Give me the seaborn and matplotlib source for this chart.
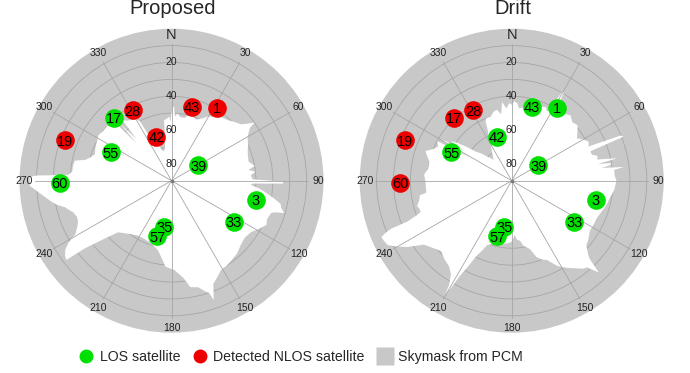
import numpy as np
import matplotlib
matplotlib.use("Agg")
import matplotlib.pyplot as plt
from matplotlib.lines import Line2D
import seaborn as sns

# ---- satellites: PRN, azimuth (deg, clockwise from N), elevation (deg) ----
sat_prn = [1, 3, 17, 19, 28, 33, 35, 39, 42, 43, 55, 57, 60]
sat_az = [32.1, 102.6, 317.8, 290.8, 331.3, 123.3, 189.1, 60.3, 341.0, 15.5, 295.0, 194.4, 269.0]
sat_el = [39.1, 38.9, 39.5, 22.6, 42.3, 45.7, 62.3, 71.8, 62.5, 44.6, 50.4, 56.0, 23.9]

# PRNs flagged as NLOS by each method
nlos_proposed = [1, 19, 28, 42, 43]
nlos_drift = [17, 19, 28, 60]

# ---- skymask boundary (elevation of obstruction vs azimuth) ----
mask_az_proposed = [0, 1, 2, 3, 5, 8, 12, 15, 18, 22, 26, 30, 35, 39, 43, 47, 51, 53.5, 55, 56,
                    60, 65, 70, 76, 80, 82, 84, 86, 89, 90.5, 91.5, 92, 93, 95, 97, 100, 102, 104,
                    106, 107, 108, 112, 115, 119, 123, 128, 133, 138, 143, 147, 151, 155, 158,
                    160.5, 161.5, 163, 166, 170, 173, 178, 184, 187, 191, 198, 205, 211, 218, 226,
                    229, 231, 232, 233, 235, 237, 239, 241, 244, 246, 249, 252, 254, 256, 258, 260,
                    263, 265, 268, 270, 271.5, 272.2, 272.6, 273.3, 275.3, 278, 281.7, 283.6, 286,
                    289, 293, 298, 302, 306, 311, 314, 316, 317, 318, 320, 321, 324, 327, 330, 332,
                    333, 335, 340, 344, 348, 351, 353, 356, 358, 359]
mask_el_proposed = [50, 47, 46, 52, 50, 52, 52, 49, 50, 51, 49, 46, 44, 42, 41, 39, 37, 33, 30, 34,
                    38, 40, 42, 43, 40, 44, 40, 43, 42, 24, 24, 42, 43, 38, 34, 28, 24, 23,
                    20.6, 26, 28, 29, 28, 31, 34, 35, 34, 32, 31, 30, 29.5, 26.5, 24,
                    15, 20, 21.5, 25, 26, 32, 37, 39, 43.5, 48, 51, 52, 52, 50, 46,
                    38, 30, 25, 12, 13, 15, 19, 25, 28, 29.4, 30, 29, 27, 25, 21, 18,
                    14, 11, 6, 6, 6, 10, 19, 29, 31, 31, 31.5, 37.5, 40,
                    42, 41, 40, 39, 40, 40, 43, 44, 60, 45, 58, 44, 46, 47, 48, 50,
                    58, 62, 68, 72, 71, 66, 54, 53, 52, 55]

mask_az_drift = [0, 2, 4, 6, 9, 12, 16, 20, 25, 27, 28.5, 29.5, 30.5, 31.5, 33, 36, 42, 46, 50, 54,
                 57, 60, 63, 66, 67.5, 68.5, 69.5, 72, 74, 76, 78, 79, 80, 81, 82, 83, 84, 87, 90,
                 95, 100, 104, 107, 110, 114, 118, 123, 127, 131, 134, 135, 136.5, 137.5, 139, 141,
                 143, 146, 149, 152, 156, 159, 162, 165, 168, 170, 172, 175, 177, 178, 180, 183,
                 187, 192, 197, 201, 203, 205, 207, 208.5, 209.5, 210.3, 211, 213, 216, 221, 223,
                 225, 229, 234, 237.5, 240, 242.5, 245, 246.6, 247.5, 248.3, 248.6, 250, 251, 253,
                 255, 258, 261, 262, 265, 269, 274, 278, 283, 286, 289, 292, 295, 298, 299, 300,
                 301, 302, 303, 305, 307, 309, 312, 314, 316, 319, 322, 326, 330, 333, 335, 336,
                 338, 342, 345, 348, 351, 353, 355, 356, 358]
mask_el_drift = [45, 43, 44, 47, 46, 45, 44, 43, 42, 44, 40, 30, 29, 36, 44, 40, 38, 40, 39, 42,
                 44, 41, 39, 40, 20, 19, 40, 40, 37, 38, 26, 38, 30, 31, 36, 23, 29, 29, 28,
                 29, 31, 32, 33, 34, 35, 35, 35, 33, 31.5, 27, 25, 15, 18, 22, 23,
                 25, 27.6, 30, 33, 38.6, 40, 42.5, 48, 50, 51, 54, 55, 58, 56, 54, 53,
                 52.5, 52, 51, 49, 45, 41, 33, 26, 17, 12, 18, 24, 27, 29, 30,
                 31, 29, 25.6, 17, 12, 7.3, 6.3, 5.9, 9, 13.2, 23.7, 30, 33, 33,
                 32, 34, 35, 39, 39, 39, 38, 40, 40, 38, 36, 40, 42, 40, 62, 41,
                 45, 57, 47, 51, 57, 62.6, 66, 69, 71, 73.7, 72, 69, 65, 60, 56, 52,
                 50, 50, 48, 47, 50, 43, 46, 47, 44]

# ---- styling ----
MASK_GREY = "#c8c8c8"
GRID_GREY = "#a6a6a6"
LOS_GREEN = "#00e000"
NLOS_RED = "#ee0000"

sns.set_theme(style="white")
plt.rcParams["font.family"] = ["Liberation Sans", "DejaVu Sans"]

fig = plt.figure(figsize=(6.9, 3.73), dpi=100)

W, H = 690.0, 373.0
RADIUS_PX = 152.0


def polar_axes(cx, cy):
    rect = [(cx - RADIUS_PX) / W, (H - cy - RADIUS_PX) / H, 2 * RADIUS_PX / W, 2 * RADIUS_PX / H]
    return fig.add_axes(rect, projection="polar")


def draw_skyplot(ax, title, cx, mask_az, mask_el, nlos):
    ax.set_theta_zero_location("N")
    ax.set_theta_direction(-1)
    ax.set_rlim(0, 90)
    ax.set_facecolor(MASK_GREY)
    ax.spines["polar"].set_visible(False)

    # open sky region (white) inside the skymask boundary
    th = np.radians(np.asarray(mask_az, dtype=float))
    rr = 90.0 - np.asarray(mask_el, dtype=float)
    ax.fill(th, rr, color="white", lw=0, zorder=1)

    # elevation rings every 10 degrees
    ax.set_yticks(np.arange(10, 90, 10))
    ax.set_yticklabels([])
    ax.set_xticks([])
    ax.yaxis.grid(True, color=GRID_GREY, lw=0.6)
    ax.xaxis.grid(False)

    # azimuth spokes every 30 degrees
    for a in range(0, 360, 30):
        ax.plot([np.radians(a)] * 2, [0, 81], color=GRID_GREY, lw=0.6, zorder=2)

    # azimuth labels
    for a in range(0, 360, 30):
        if a == 0:
            ax.text(0, 86.5, "N", ha="center", va="center", fontsize=10.5, zorder=3)
        else:
            ax.text(np.radians(a), 87, str(a), ha="center", va="center", fontsize=7.5,
                    color="#222222", zorder=3)

    # elevation labels along the north line
    for e in (20, 40, 60, 80):
        ax.text(0, 90 - e, str(e), ha="center", va="center", fontsize=7.5,
                color="#222222", zorder=3)

    ax.plot([0], [0], marker="o", ms=1.5, color="#777777", zorder=3)

    # satellites
    for i, (prn, az, el) in enumerate(zip(sat_prn, sat_az, sat_el)):
        col = NLOS_RED if prn in nlos else LOS_GREEN
        sns.scatterplot(x=[np.radians(az)], y=[90 - el], ax=ax, color=col, s=180,
                        linewidth=0, legend=False, zorder=10 + 2 * i)
        ax.text(np.radians(az), 90 - el, str(prn), ha="center", va="center_baseline",
                fontsize=10.5, color="black", zorder=11 + 2 * i)

    ax.set_xlabel("")
    ax.set_ylabel("")
    fig.text(cx / W, 1 - 14 / H, title, ha="center", va="baseline", fontsize=14.5)


ax_l = polar_axes(171.5, 180.7)
draw_skyplot(ax_l, "Proposed", 172.5, mask_az_proposed, mask_el_proposed, nlos_proposed)

ax_r = polar_axes(511.7, 180.7)
draw_skyplot(ax_r, "Drift", 512.5, mask_az_drift, mask_el_drift, nlos_drift)

handles = [
    Line2D([], [], ls="none", marker="o", ms=10, mfc=LOS_GREEN, mec="none"),
    Line2D([], [], ls="none", marker="o", ms=10, mfc=NLOS_RED, mec="none"),
    Line2D([], [], ls="none", marker="s", ms=13, mfc=MASK_GREY, mec="none"),
]
labels = ["LOS satellite", "Detected NLOS satellite", "Skymask from PCM"]
fig.legend(handles, labels, loc="center", bbox_to_anchor=(301 / W, 1 - 357 / H), ncol=3,
           frameon=False, fontsize=10.2, handletextpad=0.45, columnspacing=0.9,
           handlelength=1.0, borderpad=0)

fig.savefig("out.png", dpi=100, facecolor="white")
